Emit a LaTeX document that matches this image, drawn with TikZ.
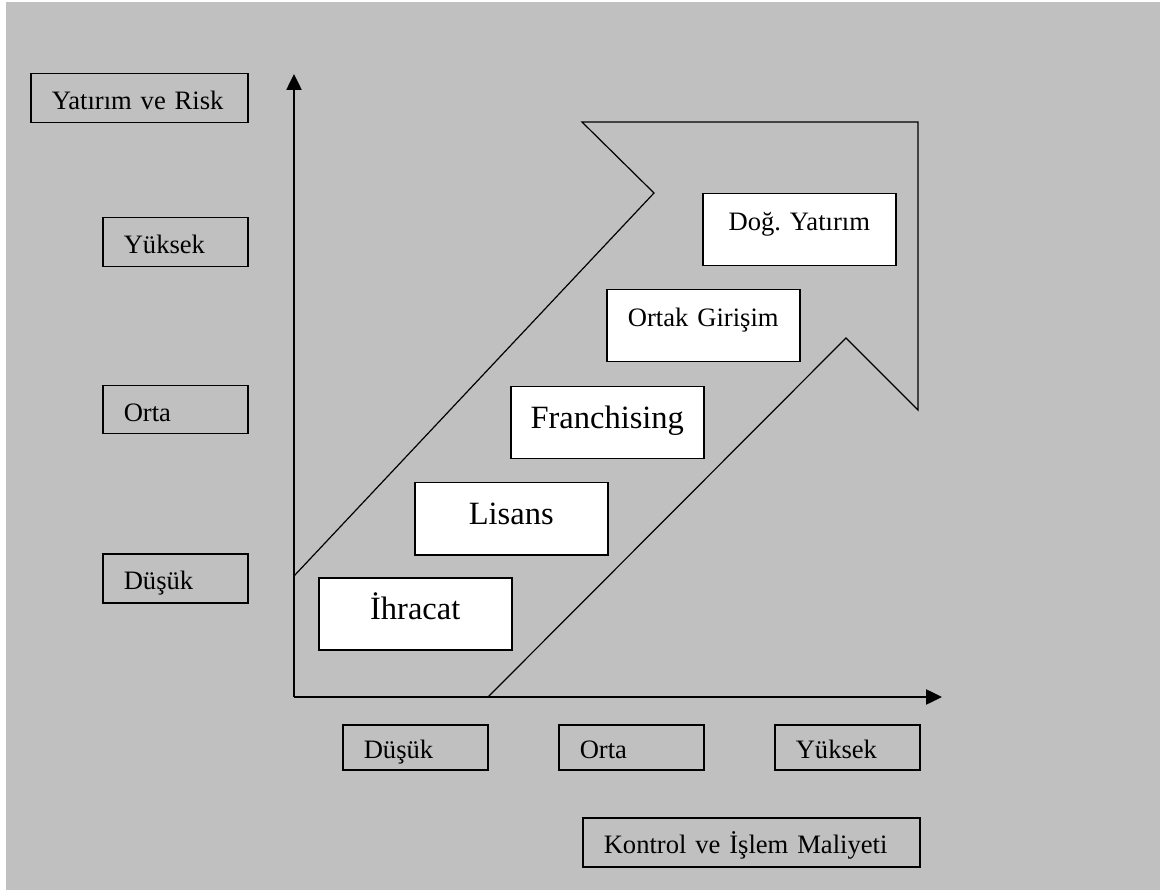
\documentclass[tikz,border=0pt]{standalone}
\usepackage{fontspec}
\setmainfont{Liberation Serif}
\usetikzlibrary{arrows.meta}
\definecolor{panel}{RGB}{192,192,192}
\newcommand{\kucukyazi}{\fontsize{26.6}{30}\selectfont}
\newcommand{\buyukyazi}{\fontsize{32.5}{37}\selectfont}
\frenchspacing
\tikzset{
  eksen/.style={line width=2.5pt},
  grikutu/.style={draw, line width=1.5pt, anchor=north west, inner xsep=21pt,
    inner ysep=0pt, align=left, font=\kucukyazi, text height=23pt, text depth=0pt},
  beyazkutu/.style={draw, fill=white, line width=1.5pt, anchor=north west,
    inner xsep=10pt, inner ysep=0pt, text width=173pt, align=center,
    minimum height=72pt, text depth=0pt},
}
\begin{document}
\begin{tikzpicture}[x=1pt, y=-1pt, >={Triangle[length=16pt,width=15pt]}]
\useasboundingbox (0,0) rectangle (1160,890);
% Zemin
\fill[white] (0,0) rectangle (1160,890);
\fill[panel] (6,2) rectangle (1160,890);
% Eksenler
\coordinate (origin) at (294,697);
\coordinate (ytip) at (294,74);
\coordinate (xtip) at (942,697);
\draw[eksen, ->] (origin) -- (ytip);
\draw[eksen, ->] (origin) -- (xtip);
% Büyük ok (bant)
\draw[line width=1.2pt, line join=miter]
  (294,576) -- (654,193) -- (582,122) -- (918,122) -- (918,410)
  -- (846,338) -- (488,697);
% Dikey eksen etiketleri
\node[grikutu, text width=175pt, minimum height=49pt] (risk) at (30,73) {Yatırım ve Risk};
\node[grikutu, text width=103pt, minimum height=49pt] (yYuksek) at (102,217) {Yüksek};
\node[grikutu, text width=103pt, minimum height=48pt] (yOrta) at (102,385) {Orta};
\node[grikutu, text width=103pt, minimum height=49pt] (yDusuk) at (102,553) {Düşük};
% Yatay eksen etiketleri
\node[grikutu, text width=103pt, minimum height=45pt] (xDusuk) at (342,724) {Düşük};
\node[grikutu, text width=103pt, minimum height=45pt] (xOrta) at (558,724) {Orta};
\node[grikutu, text width=103pt, minimum height=45pt] (xYuksek) at (774,724) {Yüksek};
\node[grikutu, text width=295pt, minimum height=49pt] (maliyet) at (582,817) {Kontrol ve İşlem Maliyeti};
% Giriş yöntemleri
\node[beyazkutu, font=\buyukyazi, text height=11pt] (ihracat) at (318,577) {İhracat};
\node[beyazkutu, font=\buyukyazi, text height=11pt] (lisans) at (414,482) {Lisans};
\node[beyazkutu, font=\buyukyazi, text height=11pt] (franchising) at (510,386) {Franchising};
\node[beyazkutu, font=\kucukyazi, text height=2pt] (ortak) at (606,289) {Ortak Girişim};
\node[beyazkutu, font=\kucukyazi, text height=2pt] (dogrudan) at (702,193) {Doğ. Yatırım};
\end{tikzpicture}
\end{document}
